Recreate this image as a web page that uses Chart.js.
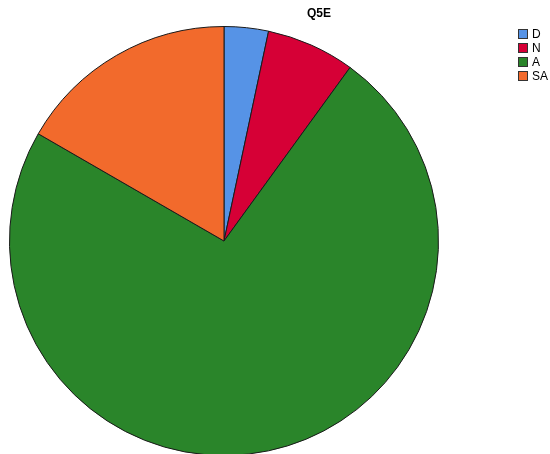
<!DOCTYPE html>
<html>
<head>
<meta charset="utf-8">
<script src="https://cdn.jsdelivr.net/npm/chart.js@4"></script>
<style>
  html, body { margin: 0; padding: 0; background: #fff; overflow: hidden; }
  #wrap { width: 550px; height: 458px; position: relative; }
</style>
</head>
<body>
<div id="wrap"><canvas id="pieChart"></canvas></div>
<script>
// Q5E responses (counts)
const categories = ['D', 'N', 'A', 'SA'];
const counts = [1, 2, 22, 5];
const colors = ['#5693E6', '#D60036', '#2A852A', '#F26A2C'];
const chartTitle = 'Q5E';

// draws the title and the small legend top-right
const overlay = {
  id: 'overlay',
  afterDraw(chart) {
    const c = chart.ctx;
    c.save();
    c.font = 'bold 12px "Liberation Sans", Arial, sans-serif';
    c.fillStyle = '#000';
    c.textAlign = 'center';
    c.textBaseline = 'middle';
    c.fillText(chartTitle, 319, 14);

    c.font = '12px "Liberation Sans", Arial, sans-serif';
    c.textAlign = 'left';
    categories.forEach((lab, i) => {
      const y = 29 + i * 14;
      c.fillStyle = colors[i];
      c.fillRect(518, y, 10, 10);
      c.strokeStyle = '#333';
      c.lineWidth = 1;
      c.strokeRect(518.5, y + 0.5, 9, 9);
      c.fillStyle = '#000';
      c.fillText(lab, 532, y + 6);
    });
    c.restore();
  }
};

const ctx = document.getElementById('pieChart').getContext('2d');
new Chart(ctx, {
  type: 'pie',
  data: {
    labels: categories,
    datasets: [{
      data: counts,
      backgroundColor: colors,
      borderColor: '#1a1a1a',
      borderWidth: 1,
      clip: false
    }]
  },
  options: {
    responsive: true,
    maintainAspectRatio: false,
    animation: false,
    layout: { padding: { left: 9, top: 26, right: 111, bottom: 2 } },
    plugins: {
      legend: { display: false },
      title: { display: false },
      tooltip: { enabled: false }
    }
  },
  plugins: [overlay]
});
</script>
</body>
</html>
